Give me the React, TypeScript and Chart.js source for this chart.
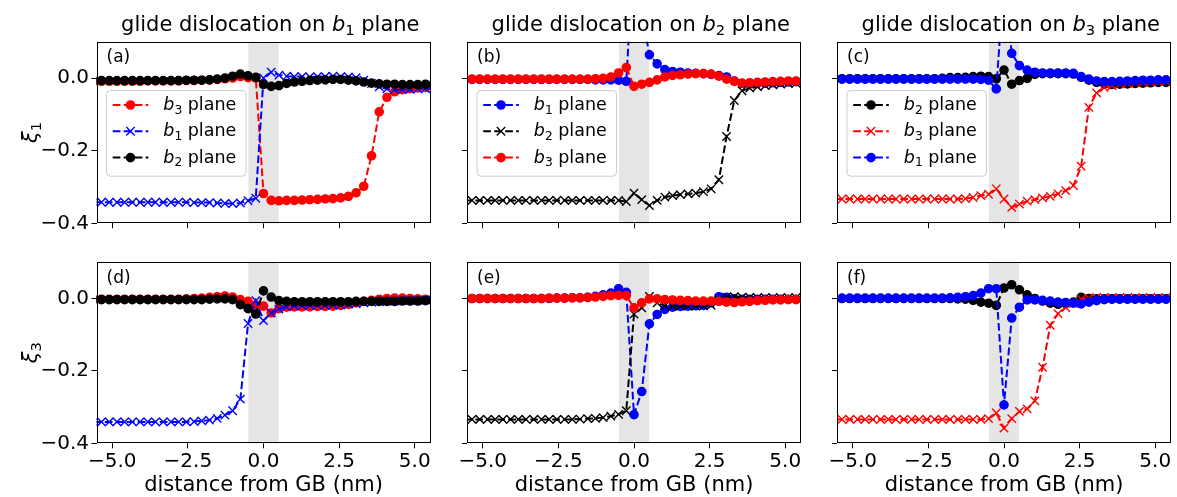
import React, { useEffect, useRef } from 'react';
import { Chart, registerables } from 'chart.js';

Chart.register(...registerables);

const FF = "'DejaVu Sans'";

// distance from GB (nm), shared by all panels
const X = [-5.61, -5.355, -5.1, -4.845, -4.59, -4.335, -4.08, -3.825, -3.57, -3.315, -3.06, -2.805, -2.55, -2.295, -2.04,
  -1.785, -1.53, -1.275, -1.02, -0.765, -0.51, -0.255, 0, 0.255, 0.51, 0.765, 1.02, 1.275, 1.53, 1.785,
  2.04, 2.295, 2.55, 2.805, 3.06, 3.315, 3.57, 3.825, 4.08, 4.335, 4.59, 4.845, 5.1, 5.355, 5.61];

const X_TICKS = [-5, -2.5, 0, 2.5, 5];
const Y_TICKS = [-0.4, -0.2, 0];
const BAND = [-0.5, 0.5];

// (a) xi1, glide on b1
const A_B3 = [-0.009, -0.009, -0.009, -0.009, -0.009, -0.009, -0.009, -0.008, -0.008, -0.008,
  -0.008, -0.008, -0.007, -0.007, -0.006, -0.005, -0.004, -0.002, 0.0, 0.004,
  0.001, 0.0, -0.318, -0.337, -0.338, -0.337, -0.337, -0.336, -0.335, -0.334,
  -0.333, -0.332, -0.330, -0.326, -0.316, -0.298, -0.214, -0.093, -0.053, -0.038,
  -0.032, -0.029, -0.027, -0.026, -0.025];
const A_B1 = [-0.342, -0.342, -0.342, -0.342, -0.342, -0.342, -0.342, -0.342, -0.342, -0.342,
  -0.342, -0.342, -0.342, -0.343, -0.343, -0.343, -0.344, -0.345, -0.346, -0.344,
  -0.338, -0.331, 0.0, 0.016, 0.008, 0.005, 0.004, 0.004, 0.003, 0.004,
  0.004, 0.005, 0.004, 0.003, 0.001, -0.006, -0.015, -0.024, -0.030, -0.032,
  -0.032, -0.031, -0.030, -0.029, -0.029];
const A_B2 = [-0.007, -0.007, -0.007, -0.007, -0.007, -0.007, -0.007, -0.007, -0.007, -0.007,
  -0.007, -0.007, -0.006, -0.006, -0.006, -0.005, -0.003, 0.0, 0.005, 0.011,
  0.006, 0.002, -0.018, -0.023, -0.021, -0.015, -0.011, -0.009, -0.007, -0.006,
  -0.005, -0.004, -0.004, -0.006, -0.008, -0.011, -0.014, -0.016, -0.017, -0.017,
  -0.018, -0.018, -0.018, -0.017, -0.017];

// (b) xi1, glide on b2
const B_B1 = [-0.004, -0.004, -0.004, -0.004, -0.004, -0.004, -0.004, -0.004, -0.004, -0.004,
  -0.004, -0.004, -0.004, -0.004, -0.004, -0.004, -0.004, -0.005, -0.005, -0.005,
  -0.006, -0.009, 0.37, 0.18, 0.064, 0.039, 0.023, 0.018, 0.016, 0.014,
  0.013, 0.012, 0.010, 0.007, 0.003, -0.008, -0.015, -0.016, -0.015, -0.014,
  -0.013, -0.012, -0.011, -0.010, -0.010];
const B_B2 = [-0.337, -0.337, -0.337, -0.337, -0.337, -0.337, -0.337, -0.337, -0.337, -0.337,
  -0.337, -0.337, -0.337, -0.337, -0.337, -0.337, -0.337, -0.337, -0.337, -0.337,
  -0.337, -0.340, -0.317, -0.335, -0.351, -0.337, -0.328, -0.324, -0.321, -0.319,
  -0.317, -0.313, -0.305, -0.280, -0.161, -0.062, -0.035, -0.028, -0.024, -0.021,
  -0.019, -0.017, -0.015, -0.014, -0.013];
const B_B3 = [-0.003, -0.003, -0.003, -0.003, -0.003, -0.003, -0.003, -0.003, -0.003, -0.003,
  -0.003, -0.003, -0.003, -0.003, -0.003, -0.003, -0.003, -0.002, -0.001, 0.003,
  0.014, 0.029, -0.023, -0.017, -0.012, -0.005, 0.003, 0.007, 0.009, 0.011,
  0.012, 0.012, 0.011, 0.005, -0.003, -0.009, -0.014, -0.013, -0.012, -0.011,
  -0.010, -0.009, -0.008, -0.008, -0.007];

// (c) xi1, glide on b3
const C_B2 = [-0.002, -0.002, -0.002, -0.002, -0.002, -0.002, -0.002, -0.002, -0.002, -0.002,
  -0.002, -0.002, -0.002, -0.002, -0.001, 0.001, 0.001, 0.002, 0.004, 0.005,
  0.004, -0.002, 0.022, -0.017, -0.007, -0.001, 0.010, 0.012, 0.012, 0.012,
  0.012, 0.011, 0.002, -0.006, -0.012, -0.016, -0.018, -0.017, -0.016, -0.015,
  -0.014, -0.013, -0.012, -0.012, -0.011];
const C_B3 = [-0.333, -0.333, -0.333, -0.333, -0.333, -0.333, -0.333, -0.333, -0.333, -0.333,
  -0.333, -0.333, -0.333, -0.333, -0.333, -0.333, -0.333, -0.332, -0.329, -0.324,
  -0.320, -0.305, -0.333, -0.356, -0.347, -0.339, -0.335, -0.330, -0.326, -0.319,
  -0.310, -0.296, -0.243, -0.081, -0.041, -0.026, -0.021, -0.017, -0.015, -0.013,
  -0.012, -0.011, -0.010, -0.010, -0.009];
const C_B1 = [-0.003, -0.003, -0.003, -0.003, -0.003, -0.003, -0.003, -0.003, -0.003, -0.003,
  -0.003, -0.003, -0.003, -0.003, -0.003, -0.003, -0.003, -0.003, -0.003, -0.004,
  -0.006, -0.030, 0.27, 0.068, 0.034, 0.022, 0.016, 0.014, 0.014, 0.014,
  0.014, 0.013, 0.004, -0.003, -0.008, -0.010, -0.010, -0.009, -0.008, -0.007,
  -0.006, -0.006, -0.005, -0.005, -0.005];

// (d) xi3, glide on b1
const D_B3 = [-0.002, -0.002, -0.002, -0.002, -0.002, -0.002, -0.002, -0.002, -0.002, -0.002,
  -0.002, -0.002, -0.001, 0.0, 0.001, 0.003, 0.005, 0.007, 0.004, -0.003,
  -0.008, -0.018, -0.021, -0.040, -0.028, -0.024, -0.023, -0.023, -0.023, -0.022,
  -0.022, -0.021, -0.019, -0.016, -0.012, -0.008, -0.005, -0.002, 0.0, 0.001,
  0.001, 0.0, -0.001, -0.002, -0.003];
const D_B1 = [-0.341, -0.341, -0.341, -0.341, -0.341, -0.341, -0.341, -0.341, -0.341, -0.341,
  -0.341, -0.341, -0.341, -0.340, -0.338, -0.336, -0.331, -0.322, -0.310, -0.278,
  -0.069, -0.006, -0.061, -0.040, -0.029, -0.023, -0.021, -0.020, -0.019, -0.019,
  -0.019, -0.018, -0.018, -0.016, -0.014, -0.012, -0.010, -0.009, -0.008, -0.007,
  -0.006, -0.005, -0.005, -0.004, -0.004];
const D_B2 = [-0.003, -0.003, -0.003, -0.003, -0.003, -0.003, -0.003, -0.003, -0.003, -0.003,
  -0.003, -0.003, -0.003, -0.003, -0.003, -0.002, -0.001, -0.001, -0.003, -0.017,
  -0.028, -0.043, 0.021, 0.004, -0.006, -0.008, -0.009, -0.009, -0.009, -0.009,
  -0.009, -0.009, -0.009, -0.009, -0.008, -0.008, -0.008, -0.008, -0.008, -0.008,
  -0.007, -0.007, -0.007, -0.006, -0.006];

// (e) xi3, glide on b2
const E_B1 = [0.0, 0.0, 0.0, 0.0, 0.0, 0.0, 0.0, 0.0, 0.0, 0.0,
  0.0, 0.0, 0.001, 0.001, 0.002, 0.002, 0.003, 0.006, 0.010, 0.015,
  0.027, 0.017, -0.321, -0.257, -0.070, -0.044, -0.030, -0.024, -0.022, -0.021,
  -0.020, -0.019, -0.012, 0.005, 0.003, -0.001, -0.002, -0.002, -0.002, -0.002,
  -0.002, -0.002, -0.002, -0.002, -0.002];
const E_B2 = [-0.334, -0.334, -0.334, -0.334, -0.334, -0.334, -0.334, -0.334, -0.334, -0.334,
  -0.334, -0.334, -0.334, -0.334, -0.334, -0.333, -0.332, -0.331, -0.329, -0.325,
  -0.320, -0.310, -0.043, -0.026, 0.006, -0.012, -0.020, -0.021, -0.021, -0.021,
  -0.021, -0.020, -0.019, -0.005, 0.004, 0.005, 0.004, 0.003, 0.002, 0.002,
  0.002, 0.002, 0.002, 0.002, 0.002];
const E_B3 = [0.0, 0.0, 0.0, 0.0, 0.0, 0.0, 0.0, 0.0, 0.0, 0.0,
  0.0, 0.001, 0.001, 0.001, 0.002, 0.002, 0.003, 0.004, 0.006, 0.008,
  0.009, 0.008, -0.026, -0.012, -0.001, -0.001, -0.003, -0.004, -0.005, -0.006,
  -0.007, -0.007, -0.007, -0.008, -0.010, -0.011, -0.009, -0.008, -0.006, -0.005,
  -0.004, -0.004, -0.003, -0.003, -0.003];

// (f) xi3, glide on b3
const F_B2 = [0.0, 0.0, 0.0, 0.0, 0.0, 0.0, 0.0, 0.0, 0.0, 0.0,
  0.0, 0.0, 0.0, 0.0, 0.0, 0.0, -0.001, -0.002, -0.005, -0.010,
  -0.013, -0.019, 0.029, 0.038, 0.024, 0.010, 0.0, -0.007, -0.013, -0.016,
  -0.014, -0.010, 0.003, 0.0, -0.001, -0.001, -0.001, -0.001, -0.001, -0.001,
  -0.001, -0.001, -0.001, -0.001, -0.001];
const F_B3 = [-0.334, -0.334, -0.334, -0.334, -0.334, -0.334, -0.334, -0.334, -0.334, -0.334,
  -0.334, -0.334, -0.334, -0.334, -0.334, -0.334, -0.334, -0.334, -0.334, -0.334,
  -0.332, -0.316, -0.358, -0.332, -0.312, -0.305, -0.283, -0.190, -0.074, -0.042,
  -0.025, -0.014, -0.002, 0.001, 0.002, 0.002, 0.002, 0.002, 0.002, 0.002,
  0.002, 0.002, 0.002, 0.002, 0.002];
const F_B1 = [0.001, 0.001, 0.001, 0.001, 0.001, 0.001, 0.001, 0.001, 0.001, 0.001,
  0.001, 0.001, 0.001, 0.001, 0.001, 0.002, 0.003, 0.005, 0.008, 0.015,
  0.027, 0.027, -0.294, -0.054, -0.024, -0.004, -0.004, -0.005, -0.007, -0.010,
  -0.011, -0.013, -0.015, -0.010, -0.006, -0.003, -0.002, -0.002, -0.002, -0.002,
  -0.002, -0.002, -0.002, -0.002, -0.002];

const RED = '#ff0000';
const BLUE = '#0000ff';
const BLACK = '#000000';

type Series = { sub: string; color: string; marker: 'o' | 'x'; values: number[] };
type PanelDef = { tag: string; row: number; col: number; series: Series[] };

const PANELS: PanelDef[] = [
  { tag: '(a)', row: 0, col: 0, series: [
    { sub: '3', color: RED, marker: 'o', values: A_B3 },
    { sub: '1', color: BLUE, marker: 'x', values: A_B1 },
    { sub: '2', color: BLACK, marker: 'o', values: A_B2 }] },
  { tag: '(b)', row: 0, col: 1, series: [
    { sub: '1', color: BLUE, marker: 'o', values: B_B1 },
    { sub: '2', color: BLACK, marker: 'x', values: B_B2 },
    { sub: '3', color: RED, marker: 'o', values: B_B3 }] },
  { tag: '(c)', row: 0, col: 2, series: [
    { sub: '2', color: BLACK, marker: 'o', values: C_B2 },
    { sub: '3', color: RED, marker: 'x', values: C_B3 },
    { sub: '1', color: BLUE, marker: 'o', values: C_B1 }] },
  { tag: '(d)', row: 1, col: 0, series: [
    { sub: '3', color: RED, marker: 'o', values: D_B3 },
    { sub: '1', color: BLUE, marker: 'x', values: D_B1 },
    { sub: '2', color: BLACK, marker: 'o', values: D_B2 }] },
  { tag: '(e)', row: 1, col: 1, series: [
    { sub: '1', color: BLUE, marker: 'o', values: E_B1 },
    { sub: '2', color: BLACK, marker: 'x', values: E_B2 },
    { sub: '3', color: RED, marker: 'o', values: E_B3 }] },
  { tag: '(f)', row: 1, col: 2, series: [
    { sub: '2', color: BLACK, marker: 'o', values: F_B2 },
    { sub: '3', color: RED, marker: 'x', values: F_B3 },
    { sub: '1', color: BLUE, marker: 'o', values: F_B1 }] },
];

const COL_TITLE_SUB = ['1', '2', '3'];
const ROW_YLABEL_SUB = ['1', '3'];

// geometry
const COL_LEFT = [96.5, 467, 837];
const COL_RIGHT = [430.5, 801, 1171];
const ROW_TOP = [41.7, 262.3];
const ROW_BOTTOM = [223.3, 443.3];
const CANVAS_X = [0, 448, 818, 1177];
const CANVAS_Y = [0, 242, 497];

type Part = { t: string; f: string; dy: number };

function mparts(size: number, prefix: string, sym: string, sub: string, suffix: string): Part[] {
  const p: Part[] = [];
  if (prefix) p.push({ t: prefix, f: `${size}px ${FF}`, dy: 0 });
  p.push({ t: sym, f: `italic ${size}px ${FF}`, dy: 0 });
  p.push({ t: sub, f: `${size * 0.7}px ${FF}`, dy: size * 0.2 });
  if (suffix) p.push({ t: suffix, f: `${size}px ${FF}`, dy: 0 });
  return p;
}

function partsWidth(ctx: CanvasRenderingContext2D, parts: Part[]) {
  let w = 0;
  for (const p of parts) { ctx.font = p.f; w += ctx.measureText(p.t).width; }
  return w;
}

function drawParts(ctx: CanvasRenderingContext2D, parts: Part[], x: number, y: number) {
  let cx = x;
  for (const p of parts) {
    ctx.font = p.f;
    ctx.fillText(p.t, cx, y + p.dy);
    cx += ctx.measureText(p.t).width;
  }
}

function drawMarker(ctx: CanvasRenderingContext2D, m: 'o' | 'x', color: string, x: number, y: number) {
  ctx.save();
  ctx.setLineDash([]);
  ctx.strokeStyle = color;
  ctx.fillStyle = color;
  ctx.lineWidth = 1.4;
  if (m === 'o') {
    ctx.beginPath();
    ctx.arc(x, y, 4.1, 0, Math.PI * 2);
    ctx.fill();
    ctx.stroke();
  } else {
    const r = 4.2;
    ctx.beginPath();
    ctx.moveTo(x - r, y - r); ctx.lineTo(x + r, y + r);
    ctx.moveTo(x - r, y + r); ctx.lineTo(x + r, y - r);
    ctx.stroke();
  }
  ctx.restore();
}

function fmt(v: number) {
  const s = Math.abs(v).toFixed(1);
  return v < -1e-9 ? '\u2212' + s : s;
}

function Panel({ p }: { p: PanelDef }) {
  const ref = useRef<HTMLCanvasElement>(null);
  const cx0 = CANVAS_X[p.col];
  const cx1 = CANVAS_X[p.col + 1];
  const cy0 = CANVAS_Y[p.row];
  const cy1 = CANVAS_Y[p.row + 1];
  const w = cx1 - cx0;
  const h = cy1 - cy0;

  useEffect(() => {
    if (!ref.current) return;
    const yW = COL_LEFT[p.col] - cx0;
    const xH = cy1 - ROW_BOTTOM[p.row];
    const padTop = ROW_TOP[p.row] - cy0;
    const padRight = cx1 - COL_RIGHT[p.col];

    const datasets = p.series.slice().reverse().map((s) => ({
      label: 'b' + s.sub + ' plane',
      data: X.map((x, i) => ({ x, y: s.values[i] })),
      borderColor: s.color,
      backgroundColor: s.color,
      borderWidth: 2,
      borderDash: [7.7, 3.3],
      pointStyle: s.marker === 'o' ? 'circle' : 'crossRot',
      pointRadius: s.marker === 'o' ? 4.1 : 5.9,
      pointBorderWidth: 1.4,
      pointBackgroundColor: s.color,
      pointBorderColor: s.color,
      pointHoverRadius: s.marker === 'o' ? 4.1 : 5.9,
      tension: 0,
      clip: 0,
      fill: false,
    }));

    const decor = {
      id: 'decor',
      beforeDatasetsDraw(chart: any) {
        const { ctx, chartArea: a, scales } = chart;
        const x0 = scales.x.getPixelForValue(BAND[0]);
        const x1 = scales.x.getPixelForValue(BAND[1]);
        ctx.save();
        ctx.fillStyle = '#e5e5e5';
        ctx.fillRect(x0, a.top, x1 - x0, a.bottom - a.top);
        ctx.restore();
      },
      afterDatasetsDraw(chart: any) {
        const { ctx, chartArea: a } = chart;
        ctx.save();
        ctx.strokeStyle = '#000';
        ctx.lineWidth = 1;
        ctx.setLineDash([]);
        const L = Math.round(a.left) + 0.5;
        const R = Math.round(a.right) - 0.5;
        const T = Math.round(a.top) + 0.5;
        const B = Math.round(a.bottom) - 0.5;
        ctx.strokeRect(L, T, R - L, B - T);
        ctx.restore();
      },
      afterDraw(chart: any) {
        const { ctx, chartArea: a } = chart;
        ctx.save();
        ctx.fillStyle = '#000';
        ctx.textBaseline = 'alphabetic';
        ctx.textAlign = 'left';
        const cxm = (a.left + a.right) / 2;
        const cym = (a.top + a.bottom) / 2;

        // panel tag
        ctx.font = `17px ${FF}`;
        ctx.fillText(p.tag, a.left + 10, a.top + 20.5);

        // title
        if (p.row === 0) {
          const parts = mparts(21, 'glide dislocation on ', 'b', COL_TITLE_SUB[p.col], ' plane');
          const tw = partsWidth(ctx, parts);
          drawParts(ctx, parts, cxm + 6.8 - tw / 2, a.top - 10.7);
        }
        // x label
        if (p.row === 1) {
          ctx.font = `21px ${FF}`;
          ctx.textAlign = 'center';
          ctx.fillText('distance from GB (nm)', cxm, a.bottom + 47.5);
          ctx.textAlign = 'left';
        }
        // y label
        if (p.col === 0) {
          ctx.save();
          ctx.translate(a.left - 59.5, cym);
          ctx.rotate(-Math.PI / 2);
          const parts = mparts(21, '', '\u03be', ROW_YLABEL_SUB[p.row], '');
          const tw = partsWidth(ctx, parts);
          drawParts(ctx, parts, -tw / 2, 0);
          ctx.restore();
        }
        // legend
        if (p.row === 0) {
          const bx = a.left + 9.5;
          const by = a.top + 48.3;
          const bw = 139.5;
          const bh = 85.7;
          ctx.save();
          ctx.beginPath();
          ctx.roundRect(bx + 0.5, by + 0.5, bw, bh, 4);
          ctx.fillStyle = 'rgba(255,255,255,0.8)';
          ctx.fill();
          ctx.strokeStyle = '#cccccc';
          ctx.lineWidth = 1;
          ctx.stroke();
          ctx.restore();
          p.series.forEach((s, i) => {
            const ry = a.top + 63.3 + i * 26.3;
            const lx0 = a.left + 16.2;
            const lx1 = a.left + 51.8;
            ctx.save();
            ctx.strokeStyle = s.color;
            ctx.lineWidth = 2;
            ctx.setLineDash([7.7, 3.3]);
            ctx.beginPath();
            ctx.moveTo(lx0, ry);
            ctx.lineTo(lx1, ry);
            ctx.stroke();
            ctx.restore();
            drawMarker(ctx, s.marker, s.color, (lx0 + lx1) / 2, ry);
            ctx.fillStyle = '#000';
            drawParts(ctx, mparts(17.5, '', 'b', s.sub, ' plane'), a.left + 66.8, ry + 5);
          });
        }
        ctx.restore();
      },
    };

    const chart = new Chart(ref.current, {
      type: 'line',
      data: { datasets: datasets as any },
      options: {
        responsive: false,
        animation: false,
        devicePixelRatio: 1,
        events: [],
        layout: { autoPadding: false, padding: { left: 0, top: padTop, right: padRight, bottom: 0 } },
        plugins: { legend: { display: false }, tooltip: { enabled: false }, title: { display: false } },
        scales: {
          x: {
            type: 'linear',
            min: -5.52,
            max: 5.52,
            afterBuildTicks: (s: any) => { s.ticks = X_TICKS.map((v) => ({ value: v })); },
            afterFit: (s: any) => { s.height = xH; },
            grid: { drawOnChartArea: false, drawTicks: true, tickLength: 5, color: '#000', lineWidth: 1 },
            border: { display: false },
            ticks: {
              display: p.row === 1,
              autoSkip: false,
              maxRotation: 0,
              minRotation: 0,
              padding: 1,
              color: '#000',
              font: { family: 'DejaVu Sans', size: 20 },
              callback: (v: any) => fmt(Number(v)),
            },
          },
          y: {
            type: 'linear',
            min: -0.4,
            max: 0.1,
            afterBuildTicks: (s: any) => { s.ticks = Y_TICKS.map((v) => ({ value: v })); },
            afterFit: (s: any) => { s.width = yW; },
            grid: { drawOnChartArea: false, drawTicks: true, tickLength: 5, color: '#000', lineWidth: 1 },
            border: { display: false },
            ticks: {
              display: p.col === 0,
              autoSkip: false,
              padding: 2.5,
              color: '#000',
              font: { family: 'DejaVu Sans', size: 20 },
              callback: (v: any) => fmt(Number(v)),
            },
          },
        },
      } as any,
      plugins: [decor],
    });
    return () => chart.destroy();
  }, []);

  return (
    <canvas
      ref={ref}
      width={w}
      height={h}
      style={{ position: 'absolute', left: cx0, top: cy0, width: w, height: h }}
    />
  );
}

export default function App() {
  return (
    <div style={{ position: 'fixed', left: 0, top: 0, width: 1177, height: 497, background: '#ffffff', overflow: 'hidden' }}>
      {PANELS.map((p) => <Panel key={p.tag} p={p} />)}
    </div>
  );
}
